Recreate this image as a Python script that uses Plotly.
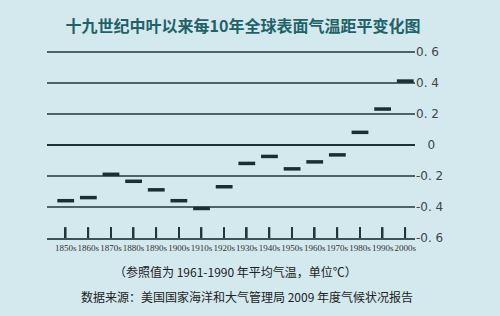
import plotly.graph_objects as go

decades = ["1850s", "1860s", "1870s", "1880s", "1890s", "1900s", "1910s", "1920s",
           "1930s", "1940s", "1950s", "1960s", "1970s", "1980s", "1990s", "2000s"]
anomaly = [-0.36, -0.34, -0.19, -0.235, -0.29, -0.36, -0.41, -0.27,
           -0.12, -0.075, -0.155, -0.11, -0.065, 0.08, 0.23, 0.41]
ytick_vals = [0.6, 0.4, 0.2, 0, -0.2, -0.4, -0.6]
ytick_text = ["0. 6", "0. 4", "0. 2", "\u00a0\u00a0\u00a00", "-0. 2", "-0. 4", "-0. 6"]

title = "十九世纪中叶以来每10年全球表面气温距平变化图"
note1 = "（参照值为 1961-1990 年平均气温，单位℃）"
note2 = "数据来源：美国国家海洋和大气管理局 2009 年度气候状况报告"

bg = "rgb(211,233,238)"
y_min, y_max = -0.6, 0.61
tick_len = 0.07
xs = list(range(len(decades)))

fig = go.Figure()
# tick marks rising from the bottom axis
fig.add_trace(go.Bar(
    x=xs, y=[tick_len] * len(xs), base=[y_min] * len(xs), width=0.075,
    marker=dict(color="#22363a", line=dict(width=0)),
    hoverinfo="skip", showlegend=False,
))
fig.add_trace(go.Scatter(
    x=xs, y=anomaly, mode="markers",
    marker=dict(symbol="line-ew", size=12,
                line=dict(width=3.5, color="#1b2f32")),
    hoverinfo="x+y", showlegend=False,
))

fig.update_layout(
    width=500, height=316,
    paper_bgcolor=bg, plot_bgcolor=bg,
    margin=dict(l=47, r=85, t=50, b=78),
    showlegend=False,
    title=dict(text="<b>" + title + "</b>", x=0.486, xanchor="center",
               y=0.915, yanchor="middle",
               font=dict(family="Noto Sans CJK SC", size=16, color="#1f6268")),
    xaxis=dict(
        range=[-0.826, 15.43],
        tickmode="array", tickvals=xs, ticktext=decades,
        ticks="", showgrid=False, zeroline=False,
        showline=True, linecolor="#3a5458", linewidth=2,
        tickfont=dict(family="Liberation Serif", size=9, color="#333"),
        tickangle=0,
    ),
    yaxis=dict(
        range=[y_min, y_max], side="right",
        tickmode="array", tickvals=ytick_vals, ticktext=ytick_text,
        showgrid=True, gridcolor="#4a6468", gridwidth=1.6,
        zeroline=True, zerolinecolor="#1d3338", zerolinewidth=2,
        ticks="", showline=False,
        tickfont=dict(family="DejaVu Sans", size=12, color="#444"),
    ),
    annotations=[
        dict(text=note1, x=235, y=271, xref="paper", yref="paper",
             showarrow=False, font=dict(family="Noto Sans CJK SC", size=12, color="#222")),
        dict(text=note2, x=247, y=296, xref="paper", yref="paper",
             showarrow=False, font=dict(family="Noto Sans CJK SC", size=12, color="#222")),
    ],
)

# convert annotation pixel positions to paper coords
plot_w = 500 - 47 - 85
plot_h = 316 - 50 - 78
for a in fig.layout.annotations:
    px, py = a.x, a.y
    a.x = (px - 47) / plot_w
    a.y = (316 - 78 - py) / plot_h
    a.xanchor = "center"
    a.yanchor = "middle"

fig.write_html("out.html")
